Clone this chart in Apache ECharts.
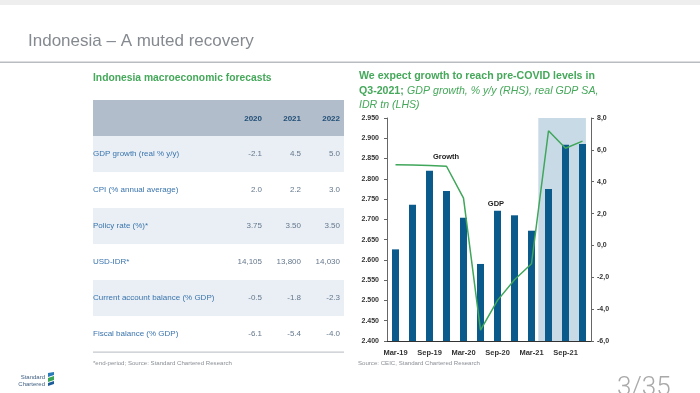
<!DOCTYPE html>
<html>
<head>
<meta charset="utf-8">
<script src="https://cdn.jsdelivr.net/npm/echarts@6/dist/echarts.min.js"></script>
<style>
html,body{margin:0;padding:0;background:#fff;}
#c{width:700px;height:393px;}
</style>
</head>
<body>
<div id="c"></div>
<script>
// ---- Data ----
const quarters = ['Mar-19','Jun-19','Sep-19','Dec-19','Mar-20','Jun-20','Sep-20','Dec-20','Mar-21','Jun-21','Sep-21','Dec-21'];
const gdpLevel = [2.626, 2.736, 2.820, 2.770, 2.704, 2.590, 2.721, 2.710, 2.672, 2.775, 2.884, 2.886];
const gdpGrowth = [5.07, 5.05, 5.02, 4.97, 2.97, -5.32, -3.45, -2.15, -1.15, 7.2, 6.1, 6.55];
const forecastRange = [8.4, 11.2]; // category index span of the shaded forecast period

const tableYears = ['2020', '2021', '2022'];
const tableRows = ['GDP growth (real % y/y)', 'CPI (% annual average)', 'Policy rate (%)*', 'USD-IDR*', 'Current account balance (% GDP)', 'Fiscal balance (% GDP)'];
const tableValues = [
  ['-2.1', '4.5', '5.0'],
  ['2.0', '2.2', '3.0'],
  ['3.75', '3.50', '3.50'],
  ['14,105', '13,800', '14,030'],
  ['-0.5', '-1.8', '-2.3'],
  ['-6.1', '-5.4', '-4.0']
];

// ---- Layout ----
const FONT = '"Liberation Sans", Arial, sans-serif';
const green = '#45a85a';
const graphic = [];

// top strip and title
graphic.push({type:'rect', shape:{x:0,y:0,width:700,height:5}, style:{fill:'#eeeeee'}});
graphic.push({type:'text', x:28, y:41, style:{text:'Indonesia \u2013 A muted recovery', font:'17px ' + FONT, fill:'#858a90', textVerticalAlign:'middle'}});
graphic.push({type:'rect', shape:{x:0,y:61.5,width:700,height:1.6}, style:{fill:'#b9bdc2'}});

// table
const tX = 93, tW = 251, hTop = 100, hH = 36, rowH = 36;
const colRight = [262, 301, 340];
graphic.push({type:'text', x:tX, y:78, style:{text:'Indonesia macroeconomic forecasts', font:'bold 10.3px ' + FONT, fill:green, textVerticalAlign:'middle'}});
graphic.push({type:'rect', shape:{x:tX,y:hTop,width:tW,height:hH}, style:{fill:'#b1bdca'}});
tableYears.forEach((yr, j) => {
  graphic.push({type:'text', x:colRight[j], y:hTop + hH/2 + 1, style:{text:yr, font:'bold 8px ' + FONT, fill:'#234f78', textAlign:'right', textVerticalAlign:'middle'}});
});
tableRows.forEach((lab, i) => {
  const y0 = hTop + hH + i*rowH;
  if (i % 2 === 0) graphic.push({type:'rect', shape:{x:tX,y:y0,width:tW,height:rowH}, style:{fill:'#e9eff5'}});
  graphic.push({type:'text', x:tX, y:y0 + rowH/2, style:{text:lab, font:'8px ' + FONT, fill:'#3a74ad', textVerticalAlign:'middle'}});
  tableValues[i].forEach((v, j) => {
    graphic.push({type:'text', x:colRight[j], y:y0 + rowH/2, style:{text:v, font:'8px ' + FONT, fill:'#64778c', textAlign:'right', textVerticalAlign:'middle'}});
  });
});
graphic.push({type:'rect', shape:{x:tX,y:351.5,width:tW,height:1.2}, style:{fill:'#c3c7cc'}});
graphic.push({type:'text', x:tX, y:363.5, style:{text:'*end-period; Source: Standard Chartered Research', font:'6.1px ' + FONT, fill:'#8a8f95', textVerticalAlign:'middle'}});

// chart title
graphic.push({type:'text', x:359, y:76.5, style:{text:'We expect growth to reach pre-COVID levels in', font:'bold 10.6px ' + FONT, fill:green, textVerticalAlign:'middle'}});
graphic.push({type:'text', x:359, y:91, style:{
  text:'{b|Q3-2021;} {i|GDP growth, % y/y (RHS), real GDP SA,}',
  rich:{b:{font:'bold 10.6px ' + FONT, fill:green}, i:{font:'italic 10.6px ' + FONT, fill:green}}, textVerticalAlign:'middle'}});
graphic.push({type:'text', x:359, y:105, style:{text:'IDR tn (LHS)', font:'italic 10.6px ' + FONT, fill:green, textVerticalAlign:'middle'}});
graphic.push({type:'text', x:358, y:363.5, style:{text:'Source: CEIC, Standard Chartered Research', font:'6.1px ' + FONT, fill:'#8a8f95', textVerticalAlign:'middle'}});

// series annotations
graphic.push({type:'text', x:446, y:157, style:{text:'Growth', font:'bold 7.5px ' + FONT, fill:'#222', textAlign:'center', textVerticalAlign:'middle'}, z:100});
graphic.push({type:'text', x:496, y:204, style:{text:'GDP', font:'bold 7.5px ' + FONT, fill:'#222', textAlign:'center', textVerticalAlign:'middle'}, z:100});

// page number
graphic.push({type:'text', x:617, y:388, style:{text:'3/35', font:'300 26px Roboto, ' + FONT, fill:'#a9a9a9', textVerticalAlign:'middle'}});

// logo
graphic.push({type:'text', x:45, y:377, style:{text:'Standard', font:'6px ' + FONT, fill:'#3f5f82', textAlign:'right', textVerticalAlign:'middle'}});
graphic.push({type:'text', x:45, y:384, style:{text:'Chartered', font:'6px ' + FONT, fill:'#3f5f82', textAlign:'right', textVerticalAlign:'middle'}});
graphic.push({type:'polygon', shape:{points:[[48,373],[54,372],[54,375],[48,377]]}, style:{fill:'#2a7ab8'}});
graphic.push({type:'polygon', shape:{points:[[48,378],[54,376],[54,380],[48,382]]}, style:{fill:'#3aa655'}});
graphic.push({type:'polygon', shape:{points:[[48,383],[54,381],[54,384],[48,386]]}, style:{fill:'#1e5c99'}});

const axisLabelStyle = {fontFamily: FONT, fontWeight:'bold', fontSize:7, color:'#333'};

const chart = echarts.init(document.getElementById('c'));
chart.setOption({
  animation:false,
  backgroundColor:'#ffffff',
  graphic: graphic,
  grid:{left:387, top:118, width:204, height:223, containLabel:false},
  xAxis:[{
    type:'category', data:quarters, boundaryGap:true,
    axisLine:{onZero:false, lineStyle:{color:'#333', width:1}},
    axisTick:{show:false},
    axisLabel:{interval:1, margin:8, fontSize:7.5, fontFamily:FONT, fontWeight:'bold', color:'#333'}
  },{
    type:'value', min:-0.5, max:quarters.length - 0.5, show:false
  }],
  yAxis:[{
    type:'value', min:2.4, max:2.95, interval:0.05,
    axisLine:{show:true, onZero:false, lineStyle:{color:'#666', width:1}},
    axisTick:{show:true, length:3, lineStyle:{color:'#666'}},
    splitLine:{show:false},
    axisLabel:Object.assign({margin:8, formatter:v => v.toFixed(3)}, axisLabelStyle)
  },{
    type:'value', min:-6, max:8, interval:2, position:'right',
    axisLine:{show:true, onZero:false, lineStyle:{color:'#666', width:1}},
    axisTick:{show:true, length:3, lineStyle:{color:'#666'}},
    splitLine:{show:false},
    axisLabel:Object.assign({margin:6, formatter:v => v.toFixed(1).replace('.', ',')}, axisLabelStyle)
  }],
  series:[{
    name:'Forecast', type:'line', xAxisIndex:1, yAxisIndex:0, data:[], silent:true,
    markArea:{silent:true, itemStyle:{color:'#c8dae6'}, data:[[{xAxis:forecastRange[0], yAxis:2.95},{xAxis:forecastRange[1], yAxis:2.4}]]},
    z:0
  },{
    name:'GDP', type:'bar', xAxisIndex:0, yAxisIndex:0, data:gdpLevel, barWidth:7,
    itemStyle:{color:'#0b5a8c'}, z:2
  },{
    name:'Growth', type:'line', xAxisIndex:0, yAxisIndex:1, data:gdpGrowth,
    symbol:'none', lineStyle:{color:'#3fa65a', width:1.5}, itemStyle:{color:'#3fa65a'}, z:3
  }]
});
</script>
</body>
</html>
